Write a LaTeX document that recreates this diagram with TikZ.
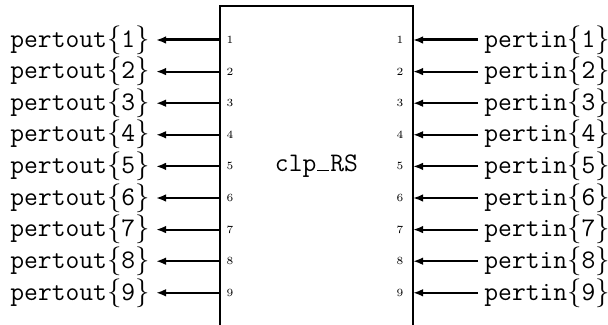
\documentclass[tikz,border=0pt]{standalone}
\usetikzlibrary{arrows.meta}
\begin{document}
\begin{tikzpicture}[x=0.5pt,y=-0.5pt,
  wire/.style={line width=1pt,-{Latex[length=5pt,width=3.8pt]}},
  thickwire/.style={wire,line width=1.5pt},
  lbl/.style={font=\fontsize{13.4}{16}\selectfont\ttfamily, inner xsep=3pt, inner ysep=0pt},
  pin/.style={font=\fontsize{5.5}{6}\selectfont, inner sep=0pt},
  boxline/.style={line width=1pt}]
\useasboundingbox (0,0) rectangle (608,325);
\draw[boxline] (220,325) -- (220,6) -- (413,6) -- (413,325);
\node[lbl,inner xsep=0pt] (core) at (316.5,166) {clp\makebox[0.525em]{\rule{0.45em}{0.7pt}}RS};
\foreach \i in {1,...,9} {
  \pgfmathsetmacro\yy{40+(\i-1)*31.6}
  \coordinate (pl\i) at (220,\yy);
  \coordinate (pr\i) at (413,\yy);
  \node[pin] (nl\i) at (230,\yy) {\i};
  \node[pin] (nr\i) at (400,\yy) {\i};
  \node[lbl,anchor=east] (out\i) at (156,\yy) {pertout$\{$\i$\}$};
  \node[lbl,anchor=west] (in\i) at (478,\yy) {pertin$\{$\i$\}$};
}
\draw[thickwire] (pl1) -- (out1.east);
\draw[thickwire] (in1.west) -- (pr1);
\foreach \i in {2,...,9} {
  \draw[wire] (pl\i) -- (out\i.east);
  \draw[wire] (in\i.west) -- (pr\i);
}
\end{tikzpicture}
\end{document}
